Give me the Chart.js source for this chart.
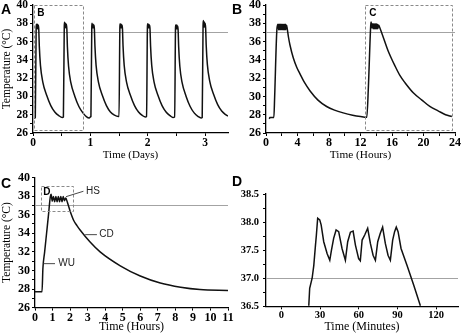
<!DOCTYPE html>
<html>
<head>
<meta charset="utf-8">
<script src="https://cdn.jsdelivr.net/npm/chart.js@4.4.1/dist/chart.umd.min.js"></script>
<style>
  body { margin: 0; background: #fff; }
  #wrap { position: relative; width: 461px; height: 336px; overflow: hidden; }
  canvas { position: absolute; }
  .tag { position: absolute; font: bold 14px "Liberation Sans", Arial, sans-serif; line-height: 14px; color: #000; }
</style>
</head>
<body>
<div id="wrap">
  <canvas id="chartA" width="230" height="168" style="left:0;top:0"></canvas>
  <canvas id="chartB" width="231" height="168" style="left:230px;top:0"></canvas>
  <canvas id="chartC" width="240" height="168" style="left:0;top:168px"></canvas>
  <canvas id="chartD" width="231" height="168" style="left:230px;top:168px"></canvas>
  <div class="tag" style="left:1px;top:2px">A</div>
  <div class="tag" style="left:232px;top:2px">B</div>
  <div class="tag" style="left:1px;top:176px">C</div>
  <div class="tag" style="left:232px;top:174px">D</div>
</div>
<script>
// reference temperature (grey line)
const refTemp = 37;

// A: three and a half days, one heating cycle every ~12 h
const aDays = [
  0.02, 0.04, 0.055, 0.06, 0.065, 0.07, 0.075, 0.08, 0.085, 0.09, 0.10, 0.11, 0.13, 0.17, 0.24, 0.31, 0.38, 0.45, 0.51,
  0.53, 0.545, 0.55, 0.555, 0.56, 0.565, 0.57, 0.575, 0.58, 0.59, 0.60, 0.62, 0.66, 0.73, 0.80, 0.87, 0.93, 0.98, 1.0,
  1.01, 1.025, 1.03, 1.035, 1.04, 1.045, 1.05, 1.055, 1.06, 1.07, 1.08, 1.10, 1.14, 1.21, 1.28, 1.35, 1.42, 1.49,
  1.50, 1.515, 1.52, 1.525, 1.53, 1.535, 1.54, 1.545, 1.55, 1.56, 1.57, 1.59, 1.63, 1.70, 1.77, 1.84, 1.91, 1.96,
  1.98, 1.995, 2.0, 2.005, 2.01, 2.015, 2.02, 2.025, 2.03, 2.04, 2.05, 2.07, 2.11, 2.18, 2.25, 2.32, 2.39, 2.44,
  2.47, 2.485, 2.49, 2.495, 2.50, 2.505, 2.51, 2.515, 2.52, 2.53, 2.54, 2.56, 2.60, 2.67, 2.74, 2.81, 2.88, 2.93,
  2.95, 2.965, 2.97, 2.975, 2.98, 2.985, 2.99, 2.995, 3.00, 3.01, 3.02, 3.04, 3.08, 3.15, 3.22, 3.29, 3.36, 3.40
];
const aTemp = [
  27.6, 27.7, 37.5, 37.9, 37.4, 37.9, 37.4, 37.9, 37.4, 37.8, 37.4, 35.5, 33.4, 31.6, 30.1, 29.0, 28.3, 27.9, 27.7,
  27.75, 37.6, 38.1, 37.5, 38.0, 37.5, 38.0, 37.5, 37.9, 37.4, 35.4, 33.3, 31.5, 30.0, 28.9, 28.2, 27.8, 27.65, 27.75,
  27.8, 37.6, 38.0, 37.5, 37.9, 37.5, 37.9, 37.5, 37.8, 37.4, 35.5, 33.4, 31.6, 30.1, 29.0, 28.3, 27.95, 27.8,
  27.8, 37.6, 37.95, 37.5, 37.9, 37.5, 37.9, 37.5, 37.8, 37.4, 35.5, 33.4, 31.6, 30.1, 29.0, 28.3, 27.9, 27.75,
  27.8, 37.6, 37.95, 37.5, 37.9, 37.5, 37.9, 37.5, 37.8, 37.4, 35.5, 33.4, 31.6, 30.1, 29.0, 28.3, 27.9, 27.7,
  27.75, 37.5, 37.8, 37.4, 37.8, 37.4, 37.8, 37.4, 37.7, 37.3, 35.4, 33.3, 31.5, 30.0, 28.9, 28.2, 27.8, 27.65,
  27.7, 37.7, 38.3, 37.6, 38.2, 37.6, 38.1, 37.6, 38.0, 37.5, 35.6, 33.5, 31.7, 30.2, 29.1, 28.4, 28.0, 27.85
];
const aTicksX = [0, 0.5, 1, 1.5, 2, 2.5, 3];
const aLabelsX = [0, 1, 2, 3];

// B: first 24 hours
const bHours = [
  0.42, 0.5, 1.0, 1.1, 1.4, 1.55, 1.6, 1.7, 1.75, 1.85, 1.9, 2.0, 2.05, 2.15, 2.2, 2.3, 2.35, 2.45, 2.5, 2.6, 2.7,
  2.85, 3.05, 3.47, 3.9, 4.3, 4.9, 5.6, 6.6, 7.7, 8.7, 9.8, 11.0, 12.0, 12.8,
  13.0, 13.3, 13.35, 13.45, 13.55, 13.6, 13.7, 13.75, 13.85, 13.9, 14.0, 14.05, 14.15, 14.2, 14.3, 14.5,
  15.0, 15.5, 16.4, 17.0, 17.65, 18.7, 19.8, 20.8, 21.9, 22.8, 23.6
];
const bTemp = [
  27.55, 27.7, 27.7, 30.0, 37.5, 37.9, 37.3, 37.9, 37.3, 37.9, 37.3, 37.9, 37.3, 37.9, 37.3, 37.9, 37.3, 37.9, 37.3, 37.8, 37.4,
  36.5, 35.6, 34.2, 33.2, 32.5, 31.5, 30.6, 29.6, 28.9, 28.5, 28.2, 27.95, 27.8, 27.72,
  31.0, 37.8, 38.15, 37.5, 37.95, 37.4, 37.95, 37.4, 37.95, 37.4, 37.95, 37.4, 37.9, 37.4, 37.8, 37.4,
  36.2, 35.0, 33.3, 32.3, 31.5, 30.4, 29.6, 28.9, 28.4, 28.0, 27.8
];
const bTicksX = [0, 2, 4, 6, 8, 10, 12, 14, 16, 18, 20, 22, 24];
const bLabelsX = [0, 4, 8, 12, 16, 20, 24];

// C: one cycle (warm-up, heat shock, cool-down)
const cHours = [
  0, 0.4, 0.45, 0.55, 0.66, 0.77, 0.87, 0.92, 0.98, 1.05, 1.12, 1.19, 1.26, 1.33, 1.40, 1.47, 1.54, 1.61, 1.68, 1.75,
  1.85, 2.0, 2.2, 2.4, 2.57, 3.14, 3.71, 4.86, 6.0, 7.14, 8.3, 9.4, 11.0
];
const cTemp = [
  27.7, 27.7, 30.2, 32.0, 34.0, 36.0, 37.9, 38.2, 37.45, 37.95, 37.4, 37.95, 37.4, 37.95, 37.4, 37.95, 37.4, 37.95, 37.5, 37.8,
  37.3, 36.4, 35.4, 34.8, 34.35, 33.06, 32.0, 30.5, 29.4, 28.65, 28.2, 27.95, 27.85
];
const cTicksX = [0, 1, 2, 3, 4, 5, 6, 7, 8, 9, 10, 11];

const tempTicks = [26, 27, 28, 29, 30, 31, 32, 33, 34, 35, 36, 37, 38, 39, 40];
const tempLabels = [26, 28, 30, 32, 34, 36, 38, 40];

// D: heat-shock plateau in minutes
const dMinutes = [
  21.2, 21.9, 23.8, 25.1, 26.4, 27.1, 28.1, 29.7, 30.8, 32.8, 35.4, 37.5, 38.8, 40.5, 42.4,
  44.4, 47.0, 49.6, 51.4, 53.5, 55.6, 57.4, 59.9, 61.2, 62.6, 64.6, 66.9, 69.0, 71.1, 72.9,
  74.7, 76.7, 78.5, 80.6, 82.7, 84.5, 86.3, 87.8, 89.1, 90.5, 92.8, 97.4, 102.6, 107.8
];
const dTemp = [
  36.51, 36.82, 37.0, 37.23, 37.59, 37.77, 38.07, 38.04, 37.95, 37.65, 37.44, 37.32, 37.5, 37.71, 37.86,
  37.83, 37.53, 37.32, 37.65, 37.82, 37.84, 37.59, 37.35, 37.31, 37.68, 37.77, 37.89, 37.62, 37.41, 37.32,
  37.65, 37.80, 37.91, 37.62, 37.41, 37.32, 37.68, 37.83, 37.91, 37.83, 37.53, 37.23, 36.88, 36.51
];
const dTicksX = [0, 30, 60, 90, 120];
const dTicksY = [36.5, 36.75, 37.0, 37.25, 37.5, 37.75, 38.0, 38.25, 38.5];
const dLabelsY = [36.5, 37.0, 37.5, 38.0, 38.5];

const serif = '"Liberation Serif", "Times New Roman", serif';
const sans = '"Liberation Sans", Arial, sans-serif';

// grey 37 line, dashed zoom boxes, small annotations
const overlay = {
  id: 'overlay',
  beforeDatasetsDraw(chart, args, o) {
    const { ctx, chartArea: a, scales: { y } } = chart;
    ctx.save();
    const yy = Math.round(y.getPixelForValue(o.ref)) + 0.5;
    ctx.strokeStyle = '#a3a3a3';
    ctx.lineWidth = 1;
    ctx.beginPath();
    ctx.moveTo(a.left, yy);
    ctx.lineTo(a.right, yy);
    ctx.stroke();
    ctx.restore();
  },
  afterDatasetsDraw(chart, args, o) {
    const { ctx, scales: { x, y } } = chart;
    ctx.save();
    if (o.box) {
      const b = o.box;
      const x0 = Math.round(x.getPixelForValue(b.x0)) + 0.5, x1 = Math.round(x.getPixelForValue(b.x1)) + 0.5;
      const y0 = Math.round(y.getPixelForValue(b.y0)) + 0.5, y1 = Math.round(y.getPixelForValue(b.y1)) + 0.5;
      ctx.strokeStyle = '#8a8a8a';
      ctx.lineWidth = 1;
      ctx.setLineDash([3, 2]);
      ctx.strokeRect(x0, y1, x1 - x0, y0 - y1);
      ctx.setLineDash([]);
    }
    (o.leaders || []).forEach(l => {
      ctx.strokeStyle = '#333';
      ctx.lineWidth = 0.9;
      ctx.beginPath();
      ctx.moveTo(x.getPixelForValue(l.x0), y.getPixelForValue(l.y0));
      ctx.lineTo(x.getPixelForValue(l.x1), y.getPixelForValue(l.y1));
      ctx.stroke();
    });
    (o.labels || []).forEach(t => {
      ctx.font = t.font;
      ctx.fillStyle = t.color || '#000';
      ctx.textAlign = 'left';
      ctx.textBaseline = 'middle';
      ctx.fillText(t.text, x.getPixelForValue(t.x), y.getPixelForValue(t.y));
    });
    ctx.restore();
  }
};

function hasValue(list, v) {
  return list.some(w => Math.abs(w - v) < 1e-6);
}

function makeChart(id, o) {
  const points = o.xs.map((v, i) => ({ x: v, y: o.ys[i] }));
  const grid = { display: true, drawOnChartArea: false, drawTicks: true, tickLength: 3, color: '#000', lineWidth: 1 };
  const border = { display: true, color: '#000', width: 1.3 };
  const dataset = {
    data: points,
    borderColor: '#111',
    borderWidth: 1.5,
    pointRadius: 0,
    fill: false
  };
  if (o.smooth) dataset.cubicInterpolationMode = 'monotone';
  else dataset.tension = 0;
  return new Chart(document.getElementById(id), {
    type: 'line',
    data: { datasets: [dataset] },
    options: {
      responsive: false,
      animation: false,
      events: [],
      layout: { padding: o.pad },
      plugins: {
        legend: { display: false },
        tooltip: { enabled: false },
        overlay: o.overlay
      },
      scales: {
        x: {
          type: 'linear',
          min: o.xMin,
          max: o.xMax,
          grid: grid,
          border: border,
          afterBuildTicks: s => { s.ticks = o.xTicks.map(v => ({ value: v })); },
          afterFit: s => { s.height = o.xH; s.paddingLeft = 0; s.paddingRight = 0; },
          ticks: {
            autoSkip: false,
            maxRotation: 0,
            padding: 0,
            color: '#000',
            font: { family: serif, size: o.tickSize, weight: 'bold' },
            callback: v => hasValue(o.xLabels, v) ? String(v) : ''
          },
          title: {
            display: true,
            text: o.xTitle,
            color: '#000',
            padding: { top: 0, bottom: 2 },
            font: { family: serif, size: o.xTitleSize }
          }
        },
        y: {
          type: 'linear',
          min: o.yMin,
          max: o.yMax,
          grid: grid,
          border: border,
          afterBuildTicks: s => { s.ticks = o.yTicks.map(v => ({ value: v })); },
          afterFit: s => { s.width = o.yW; s.paddingTop = 0; s.paddingBottom = 0; },
          ticks: {
            autoSkip: false,
            padding: o.yPad,
            color: '#000',
            font: { family: serif, size: o.tickSize, weight: 'bold' },
            callback: v => hasValue(o.yLabels, v) ? o.fmtY(v) : ''
          },
          title: {
            display: !!o.yTitle,
            text: o.yTitle || '',
            color: '#000',
            padding: { top: 0, bottom: 0 },
            font: { family: serif, size: 11.5 }
          }
        }
      }
    },
    plugins: [overlay]
  });
}

const whole = v => String(v);
const oneDec = v => v.toFixed(1);

makeChart('chartA', {
  xs: aDays, ys: aTemp, smooth: true,
  xMin: 0, xMax: 3.4, xTicks: aTicksX, xLabels: aLabelsX, xTitle: 'Time (Days)', xTitleSize: 11,
  yMin: 26, yMax: 40, yTicks: tempTicks, yLabels: tempLabels, yTitle: 'Temperature (\u00B0C)', fmtY: whole,
  pad: { left: 0, right: 2, top: 5, bottom: 4 }, xH: 31, yW: 33, yPad: 2, tickSize: 11.5,
  overlay: {
    ref: refTemp,
    box: { x0: 0.01, x1: 0.88, y0: 26.35, y1: 40 },
    labels: [{ text: 'B', x: 0.075, y: 39.1, font: 'bold 10px ' + sans }]
  }
});

makeChart('chartB', {
  xs: bHours, ys: bTemp, smooth: true,
  xMin: 0, xMax: 24, xTicks: bTicksX, xLabels: bLabelsX, xTitle: 'Time (Hours)', xTitleSize: 11.3,
  yMin: 26, yMax: 40, yTicks: tempTicks, yLabels: tempLabels, yTitle: null, fmtY: whole,
  pad: { left: 0, right: 6, top: 5, bottom: 4 }, xH: 31, yW: 36, yPad: 2, tickSize: 12,
  overlay: {
    ref: refTemp,
    box: { x0: 12.57, x1: 23.6, y0: 26.35, y1: 40 },
    labels: [{ text: 'C', x: 13.12, y: 39.15, font: 'bold 10px ' + sans }]
  }
});

makeChart('chartC', {
  xs: cHours, ys: cTemp, smooth: true,
  xMin: 0, xMax: 11, xTicks: cTicksX, xLabels: cTicksX, xTitle: 'Time (Hours)', xTitleSize: 12,
  yMin: 26, yMax: 40, yTicks: tempTicks, yLabels: tempLabels, yTitle: 'Temperature (\u00B0C)', fmtY: whole,
  pad: { left: 0, right: 12, top: 9.5, bottom: 0 }, xH: 28.4, yW: 35, yPad: 2, tickSize: 12,
  overlay: {
    ref: refTemp,
    box: { x0: 0.34, x1: 2.19, y0: 36.37, y1: 39.05 },
    labels: [
      { text: 'D', x: 0.47, y: 38.44, font: 'bold 10px ' + sans },
      { text: 'HS', x: 2.91, y: 38.5, font: '10px ' + sans, color: '#222' },
      { text: 'CD', x: 3.66, y: 33.85, font: '10px ' + sans, color: '#222' },
      { text: 'WU', x: 1.33, y: 30.73, font: '10px ' + sans, color: '#222' }
    ],
    leaders: [
      { x0: 1.77, y0: 37.94, x1: 2.76, y1: 38.52 },
      { x0: 2.86, y0: 33.85, x1: 3.53, y1: 33.85 },
      { x0: 0.47, y0: 30.73, x1: 1.14, y1: 30.73 }
    ]
  }
});

makeChart('chartD', {
  xs: dMinutes, ys: dTemp, smooth: false,
  xMin: -12, xMax: 137, xTicks: dTicksX, xLabels: dTicksX, xTitle: 'Time (Minutes)', xTitleSize: 12,
  yMin: 36.5, yMax: 38.5, yTicks: dTicksY, yLabels: dLabelsY, yTitle: null, fmtY: oneDec,
  pad: { left: 0, right: 3, top: 26, bottom: 0 }, xH: 29.7, yW: 36, yPad: 4, tickSize: 10.5,
  overlay: { ref: refTemp }
});
</script>
</body>
</html>
